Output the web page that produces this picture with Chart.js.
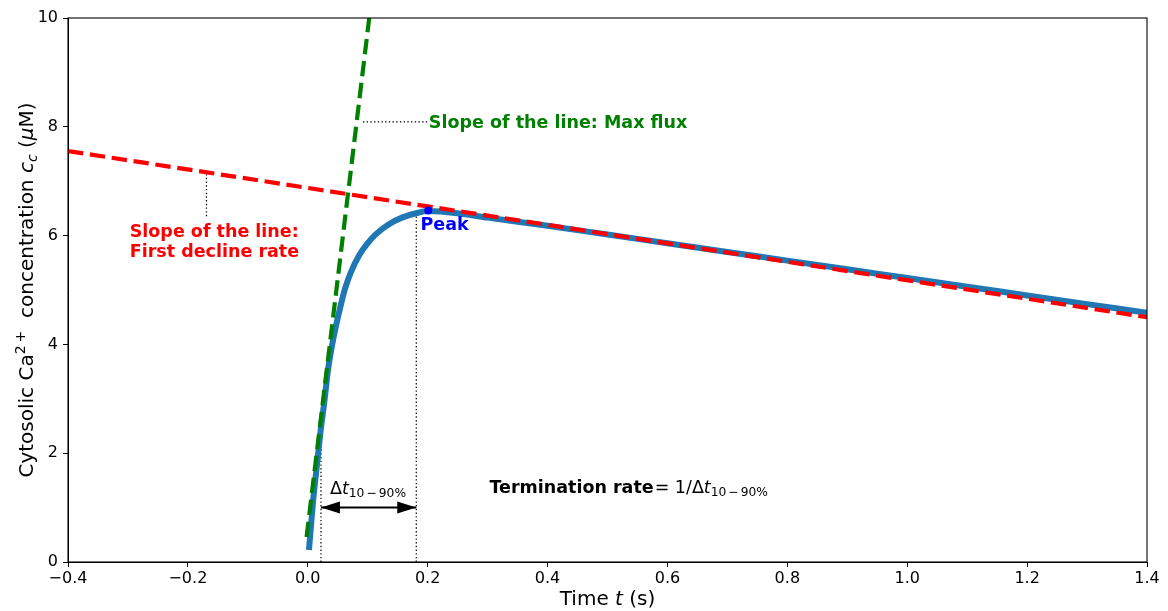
<!DOCTYPE html>
<html><head><meta charset="utf-8">
<script src="https://cdn.jsdelivr.net/npm/chart.js@4/dist/chart.umd.min.js"></script>
<style>html,body{margin:0;padding:0;background:#fff;overflow:hidden}</style>
</head><body>
<div style="width:1168px;height:611px"><canvas id="c" width="1168" height="611"></canvas></div>
<script>
// ---- data ----
const xTicks = [-0.4, -0.2, 0.0, 0.2, 0.4, 0.6, 0.8, 1.0, 1.2, 1.4];
const yTicks = [0, 2, 4, 6, 8, 10];
const caTime = [0.002, 0.009, 0.015, 0.021, 0.028, 0.034, 0.043, 0.055, 0.062, 0.072, 0.087, 0.100, 0.112, 0.134, 0.157, 0.184, 0.201, 0.25, 0.3, 0.4, 0.5, 0.6, 0.7, 0.8, 0.9, 1.0, 1.1, 1.2, 1.3, 1.4];
const caConc = [0.22, 1.14, 1.75, 2.37, 2.98, 3.55, 4.13, 4.72, 5.02, 5.33, 5.66, 5.86, 6.01, 6.20, 6.33, 6.42, 6.45, 6.41, 6.33, 6.18, 6.02, 5.86, 5.70, 5.54, 5.38, 5.22, 5.06, 4.90, 4.74, 4.58];
const peakTime = [0.201];
const peakConc = [6.46];
const maxFluxTime = [-0.002, 0.1025];
const maxFluxConc = [0.46, 10.0];
const declineTime = [-0.4, 1.4];
const declineConc = [7.555, 4.50];
const riseStartTime = 0.022, riseEndTime = 0.181;
const riseStartConc = 2.5, riseEndConc = 6.45;
const arrowConc = 1.0;
const maxFluxPointerTime = [0.092, 0.200];
const maxFluxPointerConc = [8.09, 8.09];
const declinePointerTime = [-0.169, -0.169];
const declinePointerConc = [7.13, 6.35];

const FONT = '"DejaVu Sans", sans-serif';
const pts = (xs, ys) => xs.map((x, i) => ({x, y: ys[i]}));
const dotted = [1.4, 2.3];

const annotate = {
  id: 'annotate',
  afterDatasetsDraw(chart) {
    const ctx = chart.ctx, xs = chart.scales.x, ys = chart.scales.y, a = chart.chartArea;
    const X = v => xs.getPixelForValue(v), Y = v => ys.getPixelForValue(v);
    // arrowheads
    const y0 = Y(arrowConc), xl = X(riseStartTime), xr = X(riseEndTime);
    ctx.save();
    ctx.fillStyle = '#000';
    ctx.beginPath(); ctx.moveTo(xl, y0); ctx.lineTo(xl + 19, y0 - 6); ctx.lineTo(xl + 19, y0 + 6); ctx.closePath(); ctx.fill();
    ctx.beginPath(); ctx.moveTo(xr, y0); ctx.lineTo(xr - 19, y0 - 6); ctx.lineTo(xr - 19, y0 + 6); ctx.closePath(); ctx.fill();
    ctx.restore();
    // frame
    ctx.save(); ctx.strokeStyle = '#000'; ctx.lineWidth = 1.1;
    ctx.strokeRect(a.left, a.top, a.right - a.left, a.bottom - a.top);
    ctx.restore();
    // texts
    const rich = (segs, x, y, align, color) => {
      let w = 0;
      segs.forEach(s => { ctx.font = s.f; s.w = ctx.measureText(s.t).width; w += s.w + (s.g || 0); });
      let cx = align === 'center' ? x - w / 2 : x;
      segs.forEach(s => { ctx.font = s.f; ctx.fillStyle = s.c || color; ctx.fillText(s.t, cx, y + (s.dy || 0)); cx += s.w + (s.g || 0); });
    };
    ctx.save();
    ctx.textBaseline = 'alphabetic';
    const B = 'bold 17.5px ' + FONT;
    rich([{t: 'Slope of the line: Max flux', f: B}], X(0.202), Y(8.09) + 6.5, 'left', '#008000');
    rich([{t: 'Slope of the line:', f: B}], X(-0.297), Y(5.97), 'left', '#ff0000');
    rich([{t: 'First decline rate', f: B}], X(-0.297), Y(5.60), 'left', '#ff0000');
    rich([{t: 'Peak', f: B}], X(0.188), Y(6.10), 'left', '#0000ff');
    const N17 = '17.5px ' + FONT, I17 = 'italic 17.5px ' + FONT, S12 = '12.3px ' + FONT;
    rich([{t: 'Δ', f: N17}, {t: 't', f: I17}, {t: '10', f: S12, dy: 3, g: 2}, {t: '−', f: S12, dy: 3, g: 2}, {t: '90%', f: S12, dy: 3}], X(0.037), Y(1.25), 'left', '#000');
    rich([{t: 'Termination rate', f: B, g: 1}, {t: '= 1/Δ', f: N17}, {t: 't', f: I17}, {t: '10', f: S12, dy: 3, g: 2}, {t: '−', f: S12, dy: 3, g: 2}, {t: '90%', f: S12, dy: 3}], X(0.303), Y(1.27), 'left', '#000');
    // axis titles
    const N20 = '20px ' + FONT, I20 = 'italic 20px ' + FONT, S14 = '14px ' + FONT, IS14 = 'italic 14px ' + FONT;
    rich([{t: 'Time ', f: N20}, {t: 't', f: I20}, {t: ' (s)', f: N20}], (a.left + a.right) / 2, 605, 'center', '#000');
    ctx.translate(33, (a.top + a.bottom) / 2);
    ctx.rotate(-Math.PI / 2);
    rich([{t: 'Cytosolic Ca', f: N20}, {t: '2', f: S14, dy: -8, g: 3}, {t: '+', f: S14, dy: -8}, {t: '  concentration ', f: N20},
          {t: 'c', f: I20}, {t: 'c', f: IS14, dy: 4}, {t: ' (', f: N20}, {t: 'μ', f: I20}, {t: 'M)', f: N20}], 0, 0, 'center', '#000');
    ctx.restore();
  }
};

const lineDs = (data, color, width, dash, order, extra) => Object.assign({
  data, showLine: true, borderColor: color, backgroundColor: color, borderWidth: width,
  borderDash: dash, pointRadius: 0, pointHoverRadius: 0, order, tension: 0, fill: false
}, extra || {});

new Chart(document.getElementById('c'), {
  type: 'scatter',
  data: {
    datasets: [
      Object.assign(lineDs(pts(peakTime, peakConc), '#0000ff', 0, [], 0), {showLine: false, pointRadius: 4, pointBackgroundColor: '#0000ff', pointBorderWidth: 0}),
      lineDs(pts(declineTime, declineConc), '#ff0000', 4.2, [15.4, 6.7], 1),
      lineDs(pts(maxFluxTime, maxFluxConc), '#008000', 4.2, [15.4, 6.7], 2),
      lineDs(pts(caTime, caConc), '#1f77b4', 6, [], 3, {cubicInterpolationMode: 'monotone'}),
      lineDs([{x: riseStartTime, y: arrowConc}, {x: riseEndTime, y: arrowConc}], '#000', 2, [], 4),
      lineDs([{x: riseStartTime, y: 0}, {x: riseStartTime, y: riseStartConc}], '#000', 1.2, dotted, 5),
      lineDs([{x: riseEndTime, y: 0}, {x: riseEndTime, y: riseEndConc}], '#000', 1.2, dotted, 5),
      lineDs(pts(maxFluxPointerTime, maxFluxPointerConc), '#000', 1.2, dotted, 5),
      lineDs(pts(declinePointerTime, declinePointerConc), '#000', 1.2, dotted, 5)
    ]
  },
  options: {
    responsive: false, animation: false, devicePixelRatio: 1,
    layout: {padding: {top: 18, right: 21, left: 0, bottom: 0}},
    plugins: {legend: {display: false}, tooltip: {enabled: false}},
    scales: {
      x: {
        type: 'linear', min: -0.4, max: 1.4,
        afterFit: s => { s.height = 49; },
        afterBuildTicks: s => { s.ticks = xTicks.map(v => ({value: v})); },
        ticks: {color: '#000', font: {family: FONT, size: 16}, padding: 2, maxRotation: 0,
          callback: v => v.toFixed(1).replace('-', '−')},
        grid: {display: true, drawOnChartArea: false, drawTicks: true, tickLength: 5, color: '#000', lineWidth: 1},
        border: {display: true, color: '#000', width: 1}
      },
      y: {
        type: 'linear', min: 0, max: 10,
        afterFit: s => { s.width = 68; },
        afterBuildTicks: s => { s.ticks = yTicks.map(v => ({value: v})); },
        ticks: {color: '#000', font: {family: FONT, size: 16}, padding: 5, callback: v => String(v)},
        grid: {display: true, drawOnChartArea: false, drawTicks: true, tickLength: 5, color: '#000', lineWidth: 1},
        border: {display: true, color: '#000', width: 1}
      }
    }
  },
  plugins: [annotate]
});
</script>
</body></html>
